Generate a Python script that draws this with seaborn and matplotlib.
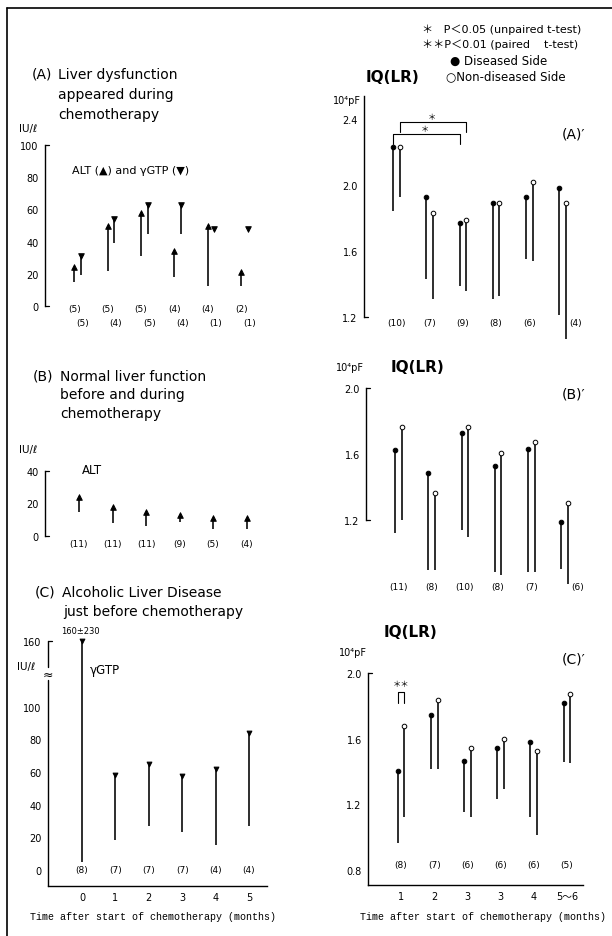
import numpy as np
import matplotlib
matplotlib.use("Agg")
import matplotlib.pyplot as plt
from matplotlib.lines import Line2D
import seaborn as sns

sns.set_style("white")
plt.rcParams['font.family'] = ['DejaVu Sans', 'Noto Sans CJK JP']
plt.rcParams['axes.unicode_minus'] = False
for key in ['text.color', 'axes.labelcolor', 'xtick.color', 'ytick.color', 'axes.edgecolor']:
    plt.rcParams[key] = 'black'

# ---- data ----
# (A) liver dysfunction: ALT / gammaGTP, mean and lower end of the bar (IU/l)
a_alt_mean = [24, 50, 58, 34, 50, 21]
a_alt_low = [15, 22, 31, 18, 12.5, 12.5]
a_gtp_mean = [31, 54, 63, 63, 48, 48]
a_gtp_low = [19, 39, 45, 45, np.nan, np.nan]
a_alt_n = [5, 5, 5, 4, 4, 2]
a_gtp_n = [5, 4, 5, 4, 1, 1]

# (B) normal liver function: ALT
b_alt_mean = [23.8, 17.7, 15.0, 13.0, 11.0, 11.2]
b_alt_low = [14.6, 8.1, 6.1, 8.9, 4.5, 4.5]
b_n = [11, 11, 11, 9, 5, 4]

# (C) alcoholic liver disease: gammaGTP
c_months = ['0', '1', '2', '3', '4', '5']
c_gtp_mean = [160, 58, 65, 57.5, 61.5, 84]
c_gtp_low = [5, 18.5, 27, 23, 15, 27]
c_n = [8, 7, 7, 7, 4, 4]

# (A)' IQ(LR), 10^4 pF
ap_d_mean = [2.23, 1.93, 1.77, 1.89, 1.93, 1.98]
ap_d_low = [1.845, 1.43, 1.39, 1.31, 1.55, 1.21]
ap_nd_mean = [2.23, 1.83, 1.79, 1.89, 2.02, 1.89]
ap_nd_low = [1.925, 1.31, 1.36, 1.33, 1.54, 1.065]
ap_n = [10, 7, 9, 8, 6, 4]

# (B)'
bp_d_mean = [1.625, 1.485, 1.725, 1.53, 1.63, 1.19]
bp_d_low = [1.12, 0.90, 1.14, 0.885, 0.885, 0.905]
bp_nd_mean = [1.765, 1.365, 1.765, 1.605, 1.67, 1.305]
bp_nd_low = [1.20, 0.90, 1.10, 0.865, 0.885, 0.81]
bp_n = [11, 8, 10, 8, 7, 6]

# (C)'
cp_months = ['1', '2', '3', '3', '4', '5〜6']
cp_d_mean = [1.40, 1.745, 1.465, 1.545, 1.58, 1.82]
cp_d_low = [0.965, 1.415, 1.155, 1.23, 1.12, 1.46]
cp_nd_mean = [1.675, 1.835, 1.545, 1.595, 1.525, 1.87]
cp_nd_low = [1.125, 1.415, 1.125, 1.29, 1.01, 1.45]
cp_n = [8, 7, 6, 6, 6, 5]

# gammaGTP axis in (C) is broken above 120: upper part compressed
def c_scale(v):
    v = np.asarray(v, dtype=float)
    return np.where(v > 120, 120 + (v - 120) * 0.5, v)

W, H = 612, 937
fig = plt.figure(figsize=(W / 100, H / 100), dpi=100)
fig.patch.set_facecolor('white')

NFONT = 6.5
TFONT = 10
MONO = ['Liberation Mono', 'DejaVu Sans Mono']


def panel(left, right, top, bottom, x_px0, x_step, y_px0, y_val0, y_scale):
    # axes placed in pixel units, data mapped so categories sit where they do in the scan
    ax = fig.add_axes([left / W, 1 - bottom / H, (right - left) / W, (bottom - top) / H])
    ax.set_xlim((left - x_px0) / x_step, (right - x_px0) / x_step)
    ax.set_ylim(y_val0 + (y_px0 - bottom) / y_scale, y_val0 + (y_px0 - top) / y_scale)
    ax.patch.set_alpha(0)
    for s in ['top', 'right', 'bottom']:
        ax.spines[s].set_visible(False)
    ax.spines['left'].set_linewidth(1.0)
    ax.set_xticks([])
    ax.tick_params(axis='y', direction='out', length=3, width=0.8, pad=1.5, labelsize=7)
    return ax


def yticks(ax, ticks, labels, caps, px_width):
    ax.set_yticks(ticks)
    ax.set_yticklabels(labels)
    for t, v in zip(ax.yaxis.get_major_ticks(), ticks):
        if v in caps:
            t.tick1line.set_visible(False)
    for v in caps:
        ax.plot([0, 4 / px_width], [v, v], transform=ax.get_yaxis_transform(),
                color='black', lw=0.9, clip_on=False)


def bars(ax, x, mean, low, marker, face, size):
    x = np.asarray(x, dtype=float)
    ax.vlines(x, low, mean, color='black', lw=1.15, zorder=2)
    sns.scatterplot(x=x, y=mean, marker=marker, s=size, color=face, edgecolor='black',
                    linewidth=0.7, ax=ax, zorder=3, legend=False, clip_on=False)


def ftext(x, y, s, **kw):
    fig.text(x / W, 1 - y / H, s, va='center', **kw)


k = np.arange(6)

# ---- (A) ----
axA = panel(45, 290, 140, 335, 77.5, 33.4, 307, 0, 1.61)
axA.spines['left'].set_bounds(0, 100)
yticks(axA, [0, 20, 40, 60, 80, 100], ['0', '20', '40', '60', '80', '100'], [0, 100], 245)
bars(axA, k - 0.1, a_alt_mean, a_alt_low, '^', 'black', 16)
bars(axA, k + 0.1, a_gtp_mean, a_gtp_low, 'v', 'black', 16)
for i in k:
    axA.text(i - 0.1, -1.5, f'({a_alt_n[i]})', ha='center', va='center', fontsize=NFONT)
    axA.text(i + 0.15, -10, f'({a_gtp_n[i]})', ha='center', va='center', fontsize=NFONT)
ftext(32, 75, '(A)', fontsize=TFONT)
ftext(58, 75, 'Liver dysfunction', fontsize=TFONT)
ftext(58, 95, 'appeared during', fontsize=TFONT)
ftext(58, 115, 'chemotherapy', fontsize=TFONT)
ftext(19, 129, 'IU/ℓ', fontsize=7.5)
ftext(72, 171, 'ALT (▲) and γGTP (▼)', fontsize=8)

# ---- (B) ----
axB = panel(45, 290, 440, 560, 79, 33.5, 537, 0, 1.625)
axB.spines['left'].set_bounds(0, 40)
yticks(axB, [0, 20, 40], ['0', '20', '40'], [0, 40], 245)
bars(axB, k, b_alt_mean, b_alt_low, '^', 'black', 16)
for i in k:
    axB.text(i, -4.5, f'({b_n[i]})', ha='center', va='center', fontsize=NFONT)
ftext(33, 377, '(B)', fontsize=TFONT)
ftext(60, 377, 'Normal liver function', fontsize=TFONT)
ftext(60, 395, 'before and during', fontsize=TFONT)
ftext(60, 414, 'chemotherapy', fontsize=TFONT)
ftext(19, 450, 'IU/ℓ', fontsize=7.5)
ftext(82, 471, 'ALT', fontsize=8.5)

# ---- (C) ----
axC = panel(48, 267, 625, 887, 82, 33.4, 871, 0, 1.635)
axC.spines['left'].set_visible(False)
axC.spines['bottom'].set_visible(True)
axC.spines['bottom'].set_linewidth(1.0)
ylo = axC.get_ylim()[0]
axC.plot([0, 0], [ylo, 116], transform=axC.get_yaxis_transform(), color='black', lw=1.0, clip_on=False)
axC.plot([0, 0], [124, 140], transform=axC.get_yaxis_transform(), color='black', lw=1.0, clip_on=False)
axC.text(0, 120, '≈', transform=axC.get_yaxis_transform(), ha='center', va='center', fontsize=9)
yticks(axC, [0, 20, 40, 60, 80, 100, 140], ['0', '20', '40', '60', '80', '100', '160'], [140], 219)
axC.set_xticks(k)
axC.set_xticklabels(c_months)
axC.tick_params(axis='x', direction='in', length=2.5, width=0.8, pad=4, labelsize=7)
bars(axC, k, c_scale(c_gtp_mean), c_gtp_low, 'v', 'black', 12)
for i in k:
    axC.text(i, 0, f'({c_n[i]})', ha='center', va='center', fontsize=NFONT)
ftext(35, 593, '(C)', fontsize=TFONT)
ftext(62, 593, 'Alcoholic Liver Disease', fontsize=TFONT)
ftext(63, 612, 'just before chemotherapy', fontsize=TFONT)
ftext(61, 631, '160±230', fontsize=6)
ftext(17, 667, 'IU/ℓ', fontsize=7.5)
ftext(90, 671, 'γGTP', fontsize=8.5)
ftext(153, 917, 'Time after start of chemotherapy (months)', fontsize=7.2,
      ha='center', family=MONO)

# ---- (A)' ----
axAp = panel(364, 600, 90, 345, 396.5, 33.2, 120, 2.4, 165)
axAp.spines['left'].set_bounds(1.2, 2.54)
yticks(axAp, [1.2, 1.6, 2.0, 2.4], ['1.2', '1.6', '2.0', '2.4'], [1.2], 236)
bars(axAp, k - 0.1, ap_d_mean, ap_d_low, 'o', 'black', 11)
bars(axAp, k + 0.1, ap_nd_mean, ap_nd_low, 'o', 'white', 11)
for i in k[:-1]:
    axAp.text(i, 1.165, f'({ap_n[i]})', ha='center', va='center', fontsize=NFONT)
axAp.text(5.38, 1.165, f'({ap_n[5]})', ha='center', va='center', fontsize=NFONT)
# significance brackets
axAp.plot([-0.1, -0.1, 1.9, 1.9], [2.25, 2.31, 2.31, 2.25], color='black', lw=0.8)
axAp.plot([0.1, 0.1, 2.1, 2.1], [2.32, 2.38, 2.38, 2.32], color='black', lw=0.8)
axAp.text(0.87, 2.345, '＊', ha='center', va='center', fontsize=6, family='Noto Sans CJK JP')
axAp.text(1.07, 2.415, '＊', ha='center', va='center', fontsize=6, family='Noto Sans CJK JP')
ftext(562, 135, '(A)′', fontsize=TFONT)
ftext(366, 77, 'IQ(LR)', fontsize=11, fontweight='bold')
ftext(333, 101, '10⁴pF', fontsize=7)
ftext(422, 30, '＊   P＜0.05 (unpaired t-test)', fontsize=8)
ftext(422, 45, '＊＊P＜0.01 (paired    t-test)', fontsize=8)
ftext(450, 61, '● Diseased Side', fontsize=8.5)
ftext(446, 77, '○Non-diseased Side', fontsize=8.5)

# ---- (B)' ----
axBp = panel(366, 600, 380, 600, 398.5, 33.2, 389, 2.0, 165)
axBp.spines['left'].set_bounds(1.2, 2.0)
yticks(axBp, [1.2, 1.6, 2.0], ['1.2', '1.6', '2.0'], [1.2, 2.0], 234)
bars(axBp, k - 0.1, bp_d_mean, bp_d_low, 'o', 'black', 11)
bars(axBp, k + 0.1, bp_nd_mean, bp_nd_low, 'o', 'white', 11)
for i in k[:-1]:
    axBp.text(i, 0.795, f'({bp_n[i]})', ha='center', va='center', fontsize=NFONT)
axBp.text(5.4, 0.795, f'({bp_n[5]})', ha='center', va='center', fontsize=NFONT)
ftext(562, 395, '(B)′', fontsize=TFONT)
ftext(391, 368, 'IQ(LR)', fontsize=11, fontweight='bold')
ftext(336, 368, '10⁴pF', fontsize=7)

# ---- (C)' ----
axCp = panel(368, 583, 625, 886, 401, 33.2, 674, 2.0, 164)
axCp.spines['bottom'].set_visible(True)
axCp.spines['bottom'].set_linewidth(1.0)
axCp.spines['left'].set_bounds(axCp.get_ylim()[0], 2.0)
yticks(axCp, [0.8, 1.2, 1.6, 2.0], ['0.8', '1.2', '1.6', '2.0'], [2.0], 215)
axCp.set_xticks(k)
axCp.set_xticklabels(cp_months)
axCp.tick_params(axis='x', direction='in', length=2.5, width=0.8, pad=4, labelsize=7)
bars(axCp, k - 0.1, cp_d_mean, cp_d_low, 'o', 'black', 11)
bars(axCp, k + 0.1, cp_nd_mean, cp_nd_low, 'o', 'white', 11)
for i in k:
    axCp.text(i, 0.83, f'({cp_n[i]})', ha='center', va='center', fontsize=NFONT)
axCp.plot([-0.1, -0.1, 0.1, 0.1], [1.817, 1.886, 1.886, 1.817], color='black', lw=0.8)
axCp.text(0, 1.935, '＊＊', ha='center', va='center', fontsize=6, family='Noto Sans CJK JP')
ftext(562, 660, '(C)′', fontsize=TFONT)
ftext(384, 633, 'IQ(LR)', fontsize=11, fontweight='bold')
ftext(339, 653, '10⁴pF', fontsize=7)
ftext(483, 917, 'Time after start of chemotherapy (months)', fontsize=7.2,
      ha='center', family=MONO)

# page frame (top and left edges of the scan)
fig.add_artist(Line2D([7 / W, 1.0], [1 - 9 / H, 1 - 9 / H], color='black', lw=1.2))
fig.add_artist(Line2D([7 / W, 7 / W], [0.0, 1 - 9 / H], color='black', lw=1.2))

fig.savefig('out.png', dpi=100, facecolor='white')
